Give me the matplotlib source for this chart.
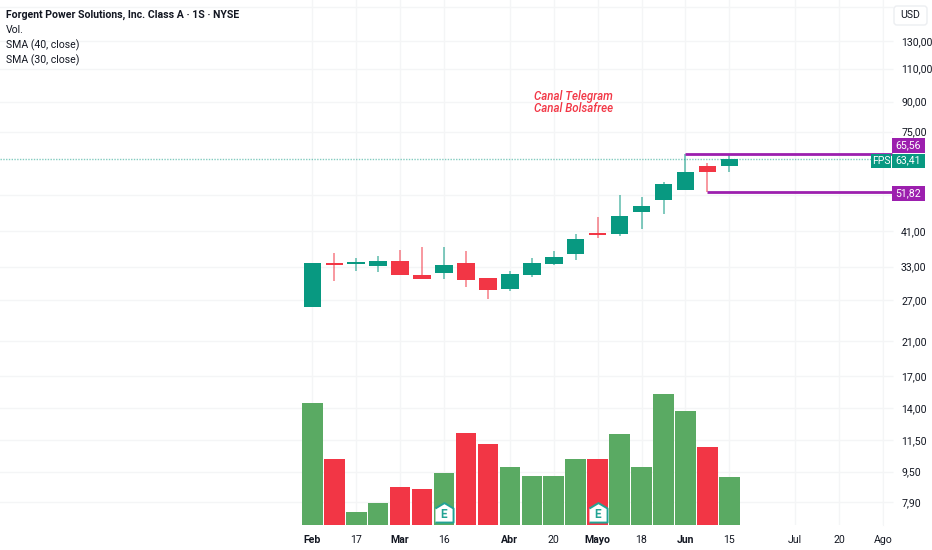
import matplotlib
matplotlib.use("Agg")
import matplotlib.pyplot as plt
from matplotlib.patches import FancyBboxPatch
from matplotlib.ticker import NullLocator, NullFormatter

plt.rcParams['font.family'] = ['Roboto', 'DejaVu Sans']

# weekly candles
opens = [25.83, 33.8, 33.5, 33.2, 34.1, 31.3, 31.8, 33.8, 30.8, 28.8,
         31.3, 33.5, 35.6, 40.5, 40.2, 45.9, 49.6, 52.7, 60.9, 60.9]
closes = [33.68, 33.33, 33.9, 34.2, 31.4, 30.7, 33.3, 30.5, 28.7, 31.5,
          33.7, 35.0, 39.0, 40.1, 44.8, 47.6, 54.5, 58.8, 58.5, 63.41]
highs = [33.68, 35.79, 34.8, 35.3, 36.5, 37.3, 37.3, 36.2, 30.8, 32.2,
         34.8, 36.4, 40.2, 44.6, 50.9, 50.4, 55.1, 65.56, 62.0, 65.0]
lows = [25.83, 30.3, 32.1, 31.9, 31.4, 30.6, 30.7, 29.2, 27.2, 28.5,
        31.0, 33.3, 34.4, 39.2, 39.8, 41.6, 45.5, 52.6, 51.82, 58.8]
# volume in millions, height only
volumes = [12.24, 6.57, 1.34, 2.2, 3.77, 3.64, 5.2, 9.24, 8.07, 5.84,
           4.94, 4.94, 6.64, 6.64, 9.07, 5.77, 13.07, 11.44, 7.84, 4.84]
volume_up = [1, 0, 1, 1, 0, 0, 1, 0, 0, 1, 1, 1, 1, 0, 1, 1, 1, 1, 0, 1]

price_ticks = [160, 130, 110, 90, 75, 51, 41, 33, 27, 21, 17, 14, 11.5, 9.5, 7.9]
price_labels = ['', '130,00', '110,00', '90,00', '75,00', '', '41,00', '33,00', '27,00',
                '21,00', '17,00', '14,00', '11,50', '9,50', '7,90']
date_ticks = [0, 2, 4, 6, 9, 11, 13, 15, 17, 19, 22, 24, 26]
date_labels = ['Feb', '17', 'Mar', '16', 'Abr', '20', 'Mayo', '18', 'Jun', '15', 'Jul', '20', 'Ago']
month_labels = ['Feb', 'Mar', 'Abr', 'Mayo', 'Jun']
earnings_weeks = [6, 13]

last_price = 63.41
level_high = 65.56
level_low = 51.82

GREEN = '#089981'
RED = '#f23645'
VOL_GREEN = '#5aaa63'
PURPLE = '#9c1fae'
GRID = '#f4f5f6'
TEXT = '#131722'
FS = 7.6

W, H = 932, 550
PLOT_R, PLOT_B = 883, 525

fig = plt.figure(figsize=(W / 100, H / 100), dpi=100)
rect = [0, 1 - PLOT_B / H, PLOT_R / W, PLOT_B / H]
ax = fig.add_axes(rect)
vax = fig.add_axes(rect, sharex=ax)
vax.patch.set_alpha(0)

ax.set_yscale('log')
ax.set_xlim(-14.23, 26.0)
ax.set_ylim(6.87, 166.8)
ax.yaxis.set_minor_locator(NullLocator())
ax.yaxis.set_minor_formatter(NullFormatter())
ax.yaxis.tick_right()
ax.set_yticks(price_ticks)
ax.set_yticklabels(price_labels, fontsize=FS, color=TEXT)
ax.tick_params(axis='y', length=7, color=GRID, pad=6, width=1)
ax.set_xticks(date_ticks)
ax.set_xticklabels(date_labels, fontsize=FS, color=TEXT)
ax.tick_params(axis='x', length=0, pad=7)
for lab in ax.get_xticklabels():
    if lab.get_text() in month_labels:
        lab.set_fontweight('bold')
ax.grid(True, color=GRID, lw=1)
ax.set_axisbelow(True)
for s in ['top', 'left', 'bottom']:
    ax.spines[s].set_visible(False)
ax.spines['right'].set_color(GRID)

# volume pane
vax.set_ylim(0, 52.5)
vax.axis('off')
for i, v in enumerate(volumes):
    vax.bar(i, v, width=0.94, color=VOL_GREEN if volume_up[i] else RED, lw=0)
for w in earnings_weeks:
    vax.plot(w, 1.2, marker=[(-1, -1), (1, -1), (1, 0.55), (0, 1.15), (-1, 0.55)], ms=15,
             mfc='white', mec='#22a394', mew=1.4)
    vax.text(w, 1.1, 'E', color='#22a394', fontsize=8.5, fontweight='bold', ha='center', va='center')

# price line and levels
ax.plot([-14.23, 25.8], [last_price, last_price], color=GREEN, lw=1, ls=(0, (1, 1)), alpha=0.5)
ax.plot([17, 26.4], [level_high, level_high], color=PURPLE, lw=2, solid_capstyle='butt', zorder=4, clip_on=False)
ax.plot([18, 26.4], [level_low, level_low], color=PURPLE, lw=2, solid_capstyle='butt', zorder=4, clip_on=False)

# candles
for i in range(len(opens)):
    c = GREEN if closes[i] >= opens[i] else RED
    ax.plot([i, i], [lows[i], highs[i]], color=c, lw=1.2, alpha=0.6, solid_capstyle='butt', zorder=3)
    bottom = min(opens[i], closes[i])
    ax.bar(i, max(opens[i], closes[i]) - bottom, bottom=bottom, width=0.8, color=c, lw=0, zorder=3)

ax.text(10.1, 93, 'Canal Telegram', color=RED, fontsize=8.3, style='italic', fontweight='medium', va='center')
ax.text(10.1, 86.5, 'Canal Bolsafree', color=RED, fontsize=8.3, style='italic', fontweight='medium', va='center')


# overlay in pixels for the boxes outside the pane
over = fig.add_axes([0, 0, 1, 1])
over.set_xlim(0, W)
over.set_ylim(H, 0)
over.axis('off')
over.patch.set_alpha(0)


def tag(x0, x1, y0, y1, label, color):
    over.fill_between([x0, x1], y0, y1, color=color, lw=0)
    over.text((x0 + x1) / 2, (y0 + y1) / 2, label, color='white', fontsize=FS, ha='center', va='center')


tag(892, 925, 137.5, 152.5, '65,56', PURPLE)
tag(892, 925, 153.5, 167.5, '63,41', GREEN)
tag(871, 891, 153.5, 167.5, 'FPS', GREEN)
tag(892, 925, 186, 200.5, '51,82', PURPLE)
over.add_patch(FancyBboxPatch((894, 6), 33, 19, boxstyle='round,pad=0,rounding_size=3', fc='white',
                              ec='#eceef1', lw=1))
over.text(910, 15.5, 'USD', color=TEXT, fontsize=FS, ha='center', va='center')

over.text(6, 15, 'Forgent Power Solutions, Inc. Class A · 1S · NYSE', color=TEXT, fontsize=FS,
          fontweight='bold', va='center')
over.text(6, 30, 'Vol.', color=TEXT, fontsize=FS, va='center')
over.text(6, 45, 'SMA (40, close)', color=TEXT, fontsize=FS, va='center')
over.text(6, 60, 'SMA (30, close)', color=TEXT, fontsize=FS, va='center')

fig.savefig('out.png', dpi=100)
